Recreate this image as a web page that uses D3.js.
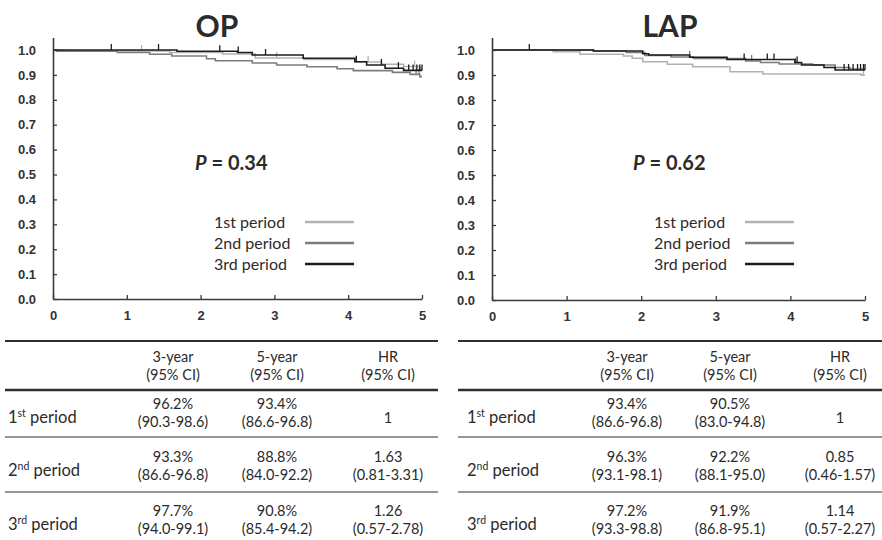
<!DOCTYPE html>
<html>
<head>
<meta charset="utf-8">
<script src="https://cdn.jsdelivr.net/npm/d3@7"></script>
<style>
  body { margin: 0; background: #fff; }
  svg text { fill: #2b2b2b; }
</style>
</head>
<body>
<div id="chart"></div>
<script>
// x ticks (years) and y ticks (survival)
var years = [0, 1, 2, 3, 4, 5];
var yTicks = [0, 0.1, 0.2, 0.3, 0.4, 0.5, 0.6, 0.7, 0.8, 0.9, 1.0];
var periods = ["1st period", "2nd period", "3rd period"];

// OP curves: step times, survival after step, censor times
var op1Time = [0, 0.15, 1.58, 2.3, 2.74, 3.4, 4.1, 4.45, 4.75, 4.97];
var op1Surv = [1, 0.996, 0.99, 0.984, 0.968, 0.962, 0.952, 0.943, 0.934, 0.925];
var op1Cens = [1.2, 3.03, 4.27, 4.9];
var op2Time = [0, 0.05, 0.87, 1.31, 1.61, 2.08, 2.2, 2.7, 3.03, 3.44, 3.85, 4.07, 4.6, 4.84, 4.97];
var op2Surv = [1, 0.995, 0.99, 0.983, 0.976, 0.965, 0.957, 0.948, 0.94, 0.933, 0.925, 0.917, 0.91, 0.902, 0.893];
var op2Cens = [4.92, 4.96];
var op3Time = [0, 1.68, 2.5, 2.7, 3.39, 4.09, 4.25, 4.5, 4.75];
var op3Surv = [1, 0.995, 0.99, 0.98, 0.967, 0.953, 0.94, 0.927, 0.918];
var op3Cens = [0.79, 1.43, 2.26, 2.51, 2.88, 4.11, 4.45, 4.68, 4.82, 4.88, 4.93, 4.97, 5.0];

// LAP curves
var lap1Time = [0, 0.82, 1.18, 1.76, 1.88, 2.02, 2.35, 2.69, 3.19, 3.63, 4.95];
var lap1Surv = [1, 0.993, 0.983, 0.976, 0.967, 0.953, 0.943, 0.933, 0.913, 0.904, 0.899];
var lap1Cens = [4.98];
var lap2Time = [0, 1.36, 1.8, 2.05, 2.4, 2.7, 3.4, 3.6, 3.85, 4.3, 4.6, 4.8];
var lap2Surv = [1, 0.996, 0.99, 0.978, 0.972, 0.966, 0.956, 0.95, 0.944, 0.94, 0.93, 0.924];
var lap2Cens = [2.65, 3.48, 4.07];
var lap3Time = [0, 1.36, 2.02, 2.1, 2.65, 3.15, 4.06, 4.15, 4.45, 4.6];
var lap3Surv = [1, 0.996, 0.985, 0.98, 0.971, 0.962, 0.95, 0.94, 0.93, 0.92];
var lap3Cens = [0.5, 3.38, 3.69, 3.78, 4.09, 4.72, 4.78, 4.84, 4.9, 4.94, 4.98, 5.0];

// tables
var colHeads = ["3-year", "5-year", "HR"];
var colSub = ["(95% CI)", "(95% CI)", "(95% CI)"];
var rowNum = ["1", "2", "3"];
var rowSup = ["st", "nd", "rd"];
var opEst3 = ["96.2%", "93.3%", "97.7%"];
var opCI3 = ["(90.3-98.6)", "(86.6-96.8)", "(94.0-99.1)"];
var opEst5 = ["93.4%", "88.8%", "90.8%"];
var opCI5 = ["(86.6-96.8)", "(84.0-92.2)", "(85.4-94.2)"];
var opHR = ["1", "1.63", "1.26"];
var opHRCI = ["", "(0.81-3.31)", "(0.57-2.78)"];
var lapEst3 = ["93.4%", "96.3%", "97.2%"];
var lapCI3 = ["(86.6-96.8)", "(93.1-98.1)", "(93.3-98.8)"];
var lapEst5 = ["90.5%", "92.2%", "91.9%"];
var lapCI5 = ["(83.0-94.8)", "(88.1-95.0)", "(86.8-95.1)"];
var lapHR = ["1", "0.85", "1.14"];
var lapHRCI = ["", "(0.46-1.57)", "(0.57-2.27)"];

var lineColors = ["#b2b2b2", "#7c7c7c", "#1c1c1c"];
var axisColor = "#3a3a3a";
var sans = "Lato, 'Open Sans', sans-serif";
var arial = "'Liberation Sans', Arial, sans-serif";

var svg = d3.select("#chart").append("svg")
  .attr("width", 882)
  .attr("height", 540);

function survAt(times, surv, t) {
  var s = surv[0];
  for (var i = 0; i < times.length; i++) {
    if (times[i] <= t) s = surv[i];
  }
  return s;
}

function drawPanel(p) {
  var g = svg.append("g");
  var x = d3.scaleLinear().domain([0, 5]).range([p.x0, p.x1]);
  var y = d3.scaleLinear().domain([0, 1.05]).range([p.y0, p.y0 - 1.05 * (p.y0 - p.y1)]);

  var yAxis = g.append("g")
    .attr("transform", "translate(" + p.x0 + ",0)")
    .call(d3.axisLeft(y).tickValues(yTicks).tickSizeInner(-4).tickSizeOuter(0)
      .tickPadding(17).tickFormat(d3.format(".1f")));
  var xAxis = g.append("g")
    .attr("transform", "translate(0," + p.y0 + ")")
    .call(d3.axisBottom(x).tickValues(years).tickSizeInner(-4).tickSizeOuter(0)
      .tickPadding(12).tickFormat(d3.format("d")));

  [yAxis, xAxis].forEach(function(a) {
    a.select(".domain").attr("stroke", axisColor).attr("stroke-width", 1.6);
    a.selectAll(".tick line").attr("stroke", axisColor).attr("stroke-width", 1.3);
    a.selectAll("text")
      .attr("font-family", arial)
      .attr("font-weight", "bold")
      .attr("font-size", 13)
      .style("fill", "#333");
  });

  var line = d3.line()
    .curve(d3.curveStepAfter)
    .x(function(d) { return x(d[0]); })
    .y(function(d) { return y(d[1]); });

  p.curves.forEach(function(c, i) {
    var pts = c.time.map(function(t, j) { return [t, c.surv[j]]; });
    pts.push([5, c.surv[c.surv.length - 1]]);
    g.append("path")
      .datum(pts)
      .attr("fill", "none")
      .attr("stroke", lineColors[i])
      .attr("stroke-width", 1.6)
      .attr("d", line);
    g.selectAll(null)
      .data(c.cens)
      .enter()
      .append("line")
      .attr("x1", function(d) { return x(d); })
      .attr("x2", function(d) { return x(d); })
      .attr("y1", function(d) { return y(survAt(c.time, c.surv, d)); })
      .attr("y2", function(d) { return y(survAt(c.time, c.surv, d)) - 6; })
      .attr("stroke", lineColors[i])
      .attr("stroke-width", 1.3);
  });

  g.append("text")
    .attr("x", p.titleX)
    .attr("y", 37)
    .attr("text-anchor", "middle")
    .attr("font-family", sans)
    .attr("font-weight", "bold")
    .attr("font-size", 30)
    .text(p.title);

  var pv = g.append("text")
    .attr("x", p.pX)
    .attr("y", 170)
    .attr("font-family", sans)
    .attr("font-weight", "bold")
    .attr("font-size", 20);
  pv.append("tspan").attr("font-style", "italic").text("P");
  pv.append("tspan").text(" = " + p.pValue);

  periods.forEach(function(name, i) {
    var by = 228 + i * 21;
    g.append("text")
      .attr("x", p.legX)
      .attr("y", by)
      .attr("font-family", sans)
      .attr("font-size", 16)
      .text(name);
    g.append("line")
      .attr("x1", p.legX + 91)
      .attr("x2", p.legX + 140)
      .attr("y1", by - 6)
      .attr("y2", by - 6)
      .attr("stroke", lineColors[i])
      .attr("stroke-width", 2.4);
  });
}

function drawTable(t) {
  var g = svg.append("g");
  var ruleY = [341, 390, 437, 492];
  var ruleW = [2.2, 2.6, 1, 1];
  ruleY.forEach(function(ry, i) {
    g.append("line")
      .attr("x1", t.left).attr("x2", t.right)
      .attr("y1", ry).attr("y2", ry)
      .attr("stroke", "#2e2e2e")
      .attr("stroke-width", ruleW[i]);
  });

  function txt(x, y, s) {
    return g.append("text")
      .attr("x", x).attr("y", y)
      .attr("text-anchor", "middle")
      .attr("font-family", sans)
      .attr("font-size", 14.5)
      .text(s);
  }

  colHeads.forEach(function(h, j) {
    txt(t.cols[j], 362, h);
    txt(t.cols[j], 379.5, colSub[j]);
  });

  var rowBase = [409, 462, 516];
  rowBase.forEach(function(b, i) {
    var lab = g.append("text")
      .attr("x", t.labX)
      .attr("y", b + 14)
      .attr("font-family", sans)
      .attr("font-size", 16.5);
    lab.append("tspan").text(rowNum[i]);
    lab.append("tspan").attr("font-size", 10.5).attr("dy", -6).text(rowSup[i]);
    lab.append("tspan").attr("dy", 6).text(" period");

    txt(t.cols[0], b, t.est3[i]);
    txt(t.cols[0], b + 17.5, t.ci3[i]);
    txt(t.cols[1], b, t.est5[i]);
    txt(t.cols[1], b + 17.5, t.ci5[i]);
    if (t.hrci[i]) {
      txt(t.cols[2], b, t.hr[i]);
      txt(t.cols[2], b + 17.5, t.hrci[i]);
    } else {
      txt(t.cols[2], b + 14, t.hr[i]);
    }
  });
}

drawPanel({
  x0: 53, x1: 422, y0: 299, y1: 50,
  title: "OP", titleX: 217, pX: 195, pValue: "0.34", legX: 214,
  curves: [
    {time: op1Time, surv: op1Surv, cens: op1Cens},
    {time: op2Time, surv: op2Surv, cens: op2Cens},
    {time: op3Time, surv: op3Surv, cens: op3Cens}
  ]
});

drawPanel({
  x0: 492, x1: 865, y0: 300, y1: 50,
  title: "LAP", titleX: 670, pX: 633, pValue: "0.62", legX: 654,
  curves: [
    {time: lap1Time, surv: lap1Surv, cens: lap1Cens},
    {time: lap2Time, surv: lap2Surv, cens: lap2Cens},
    {time: lap3Time, surv: lap3Surv, cens: lap3Cens}
  ]
});

drawTable({
  left: 5, right: 438, labX: 8, cols: [173, 277, 388],
  est3: opEst3, ci3: opCI3, est5: opEst5, ci5: opCI5, hr: opHR, hrci: opHRCI
});

drawTable({
  left: 458, right: 882, labX: 467, cols: [627, 730, 840],
  est3: lapEst3, ci3: lapCI3, est5: lapEst5, ci5: lapCI5, hr: lapHR, hrci: lapHRCI
});
</script>
</body>
</html>
